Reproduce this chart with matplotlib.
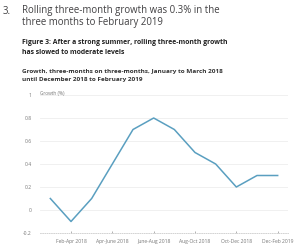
import matplotlib
matplotlib.use("Agg")
import matplotlib.pyplot as plt

periods = ['Jan-Mar 2018', 'Feb-Apr 2018', 'Mar-May 2018', 'Apr-June 2018',
           'May-Jul 2018', 'June-Aug 2018', 'Jul-Sep 2018', 'Aug-Oct 2018',
           'Sep-Nov 2018', 'Oct-Dec 2018', 'Nov-Jan 2019', 'Dec-Feb 2019']
growth = [0.1, -0.1, 0.1, 0.4, 0.7, 0.8, 0.7, 0.5, 0.4, 0.2, 0.3, 0.3]
y_ticks = [-0.2, 0, 0.2, 0.4, 0.6, 0.8, 1]
y_labels = ['-0.2', '0', '0.2', '0.4', '0.6', '0.8', '1']

plt.rcParams['font.family'] = ['Open Sans', 'DejaVu Sans']

W, H = 300, 247
fig = plt.figure(figsize=(3.0, 2.47), dpi=100)
fig.patch.set_facecolor('white')

# headings
fig.text(3 / W, 1 - 11 / H, '3.', fontsize=6.9, color='#414042', va='center')
fig.text(22 / W, 1 - 11 / H, 'Rolling three-month growth was 0.3% in the',
         fontsize=6.9, color='#414042', va='center')
fig.text(22 / W, 1 - 23 / H, 'three months to February 2019',
         fontsize=6.9, color='#414042', va='center')
fig.text(22 / W, 1 - 43 / H, 'Figure 3: After a strong summer, rolling three-month growth',
         fontsize=4.95, color='#222222', weight='bold', va='center')
fig.text(22 / W, 1 - 52 / H, 'has slowed to moderate levels',
         fontsize=4.95, color='#222222', weight='bold', va='center')
fig.text(22 / W, 1 - 71 / H, 'Growth, three-months on three-months, January to March 2018',
         fontsize=4.6, color='#333333', weight='bold', va='center')
fig.text(22 / W, 1 - 80 / H, 'until December 2018 to February 2019',
         fontsize=4.6, color='#333333', weight='bold', va='center')

ax = fig.add_axes([40 / W, (H - 233) / H, 248 / W, 138 / H])
x = list(range(len(periods)))
ax.plot(x, growth, color='#5a9fc0', linewidth=1.1, zorder=3)

ax.set_xlim(-0.5, 11.5)
ax.set_ylim(-0.2, 1)
ax.set_yticks(y_ticks)
ax.set_yticklabels(y_labels)
ax.set_xticks(x[1::2])
ax.set_xticklabels(periods[1::2])
ax.tick_params(axis='y', length=0, labelsize=3.6, colors='#777777', pad=6)
ax.tick_params(axis='x', length=1.5, width=0.4, direction='in', labelsize=3.6,
               colors='#777777', pad=4)
ax.grid(axis='y', color='#eeeeee', linewidth=0.6)
for s in ['top', 'right', 'left']:
    ax.spines[s].set_visible(False)
ax.spines['bottom'].set_color('#cccccc')
ax.spines['bottom'].set_linestyle(':')
ax.spines['bottom'].set_linewidth(0.6)

fig.text(40 / W, 1 - 93 / H, 'Growth (%)', fontsize=3.4, color='#777777', va='center')

fig.savefig('out.png', dpi=100)
